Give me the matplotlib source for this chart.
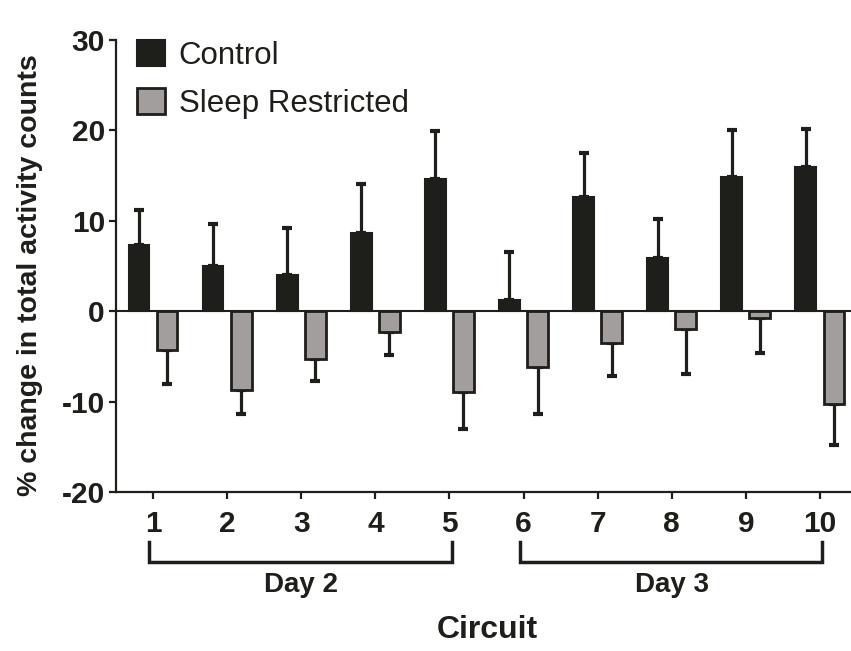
import numpy as np
import matplotlib
matplotlib.use("Agg")
import matplotlib.pyplot as plt
import matplotlib.transforms as mtransforms

plt.rcParams['font.family'] = ['Liberation Sans', 'DejaVu Sans']
plt.rcParams['axes.unicode_minus'] = False

# --- data ---
circuits = [1, 2, 3, 4, 5, 6, 7, 8, 9, 10]
control = [7.3, 5.0, 4.0, 8.6, 14.6, 1.2, 12.6, 5.9, 14.8, 16.0]
control_err = [3.9, 4.6, 5.2, 5.5, 5.3, 5.3, 4.9, 4.3, 5.2, 4.2]
sleep_restricted = [-4.3, -8.7, -5.3, -2.25, -8.9, -6.2, -3.5, -2.0, -0.7, -10.3]
sleep_err = [3.8, 2.7, 2.45, 2.65, 4.1, 5.2, 3.7, 5.0, 3.9, 4.5]
day_groups = [("Day 2", 1, 5), ("Day 3", 6, 10)]

dark = '#1e1e1a'
grey = '#a39e9e'

fig = plt.figure(figsize=(8.51, 6.51), dpi=100)
ax = fig.add_axes([116 / 851, 1 - 492 / 651, 735 / 851, 452 / 651])

x = np.array(circuits, dtype=float)
w = 0.28
off = 0.19

zeros = np.zeros(len(x))
ax.bar(x - off, control, width=w, color=dark, edgecolor=dark, linewidth=1.5,
       zorder=3, label='Control')
ax.errorbar(x - off, control, yerr=[zeros, control_err], fmt='none', ecolor=dark,
            elinewidth=2.3, capsize=3.5, capthick=3, zorder=2)
ax.bar(x + off, sleep_restricted, width=w, color=grey, edgecolor=dark, linewidth=2,
       zorder=3, label='Sleep Restricted')
ax.errorbar(x + off, sleep_restricted, yerr=[sleep_err, zeros], fmt='none', ecolor=dark,
            elinewidth=2.3, capsize=3.5, capthick=3, zorder=2)

ax.axhline(0, color=dark, linewidth=1.5, zorder=4)

ax.set_xlim(0.5, 10.42)
ax.set_ylim(-20, 30)
ax.set_yticks([-20, -10, 0, 10, 20, 30])
ax.set_xticks(circuits)
ax.set_xticklabels([str(c) for c in circuits])

for side in ['top', 'right']:
    ax.spines[side].set_visible(False)
for side in ['left', 'bottom']:
    ax.spines[side].set_linewidth(1.6)
    ax.spines[side].set_color(dark)

ax.tick_params(axis='both', direction='out', length=5, width=1.6, color=dark,
               labelsize=21.5, labelcolor=dark)
ax.tick_params(axis='x', pad=8)
ax.tick_params(axis='y', pad=3)
for lab in ax.get_xticklabels() + ax.get_yticklabels():
    lab.set_fontweight('bold')

# brackets for the days
trans = mtransforms.blended_transform_factory(ax.transData, ax.transAxes)
for name, a, b in day_groups:
    ax.plot([a - 0.05, a - 0.05, b + 0.03, b + 0.03], [-0.11, -0.155, -0.155, -0.11],
            transform=trans, color=dark, linewidth=2.5, clip_on=False,
            solid_joinstyle='miter')
    ax.text((a + b) / 2, -0.205, name, transform=trans, ha='center', va='center',
            fontsize=20, fontweight='bold', color=dark)

fig.text(487 / 851, 1 - 630 / 651, 'Circuit', ha='center', va='center',
         fontsize=23, fontweight='bold', color=dark)
fig.text(30 / 851, 1 - 275 / 651, '% change in total activity counts', rotation=90,
         ha='center', va='center', fontsize=20.5, fontweight='bold', color=dark)

ax.legend(loc='upper left', bbox_to_anchor=(0.028, 1.0), frameon=False,
          fontsize=22.5, handlelength=0.9, handleheight=0.9, handletextpad=0.45,
          labelspacing=0.55, borderpad=0, borderaxespad=0, labelcolor=dark)

plt.savefig('out.png', dpi=100)
